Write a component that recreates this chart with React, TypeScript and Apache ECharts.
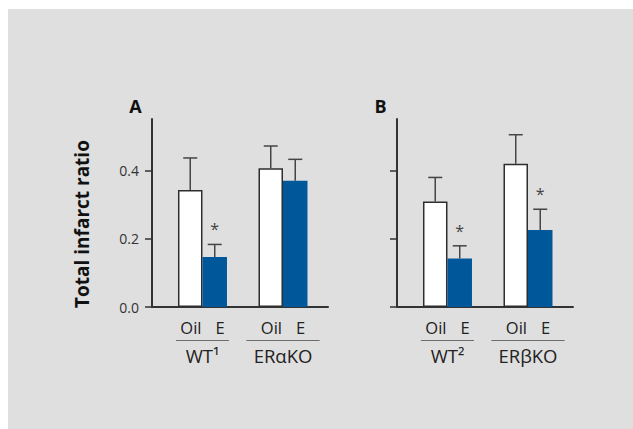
import React, { useEffect, useRef } from "react";
import * as echarts from "echarts";

const panelLabels = ["A", "B"];
const treatments = ["Oil", "E"];
const groupsA = ["WT¹", "ERαKO"];
const groupsB = ["WT²", "ERβKO"];
const oilA = [0.342, 0.406];
const oilErrA = [0.094, 0.065];
const eA = [0.146, 0.369];
const eErrA = [0.037, 0.063];
const sigA = [1, 0];
const oilB = [0.309, 0.419];
const oilErrB = [0.07, 0.085];
const eB = [0.142, 0.225];
const eErrB = [0.037, 0.061];
const sigB = [1, 1];
const yTicks = [0, 0.2, 0.4];
const yMax = 0.55;
const yTitle = "Total infarct ratio";

const FONT = "'Open Sans', 'Noto Sans', sans-serif";
const BAR_W = 24.5;
const CAP = 7;
const X_MIN = -0.627;
const X_MAX = 1.559;
const GRID_LEFT = [144, 389];
const LETTER_POS = [
  [127.5, 96.5],
  [372.5, 96.5],
];

const panels = [
  { groups: groupsA, oil: oilA, oilErr: oilErrA, e: eA, eErr: eErrA, sig: sigA },
  { groups: groupsB, oil: oilB, oilErr: oilErrB, e: eB, eErr: eErrB, sig: sigB },
];

export default function App() {
  const ref = useRef<HTMLDivElement>(null);
  useEffect(() => {
    if (!ref.current) return;
    const chart = echarts.init(ref.current, null, { renderer: "svg" });

    const series: any[] = [];
    panels.forEach((p, i) => {
      series.push({
        type: "bar",
        name: treatments[0],
        xAxisIndex: i,
        yAxisIndex: i,
        barWidth: BAR_W,
        barGap: "0%",
        data: p.oil.map((v, g) => [g, v]),
        itemStyle: { color: "#ffffff", borderColor: "#2e2e2e", borderWidth: 1.5 },
      });
      series.push({
        type: "bar",
        name: treatments[1],
        xAxisIndex: i,
        yAxisIndex: i,
        barWidth: BAR_W,
        barGap: "0%",
        data: p.e.map((v, g) => [g, v]),
        itemStyle: { color: "#00589b" },
      });
      const errData: number[][] = [];
      p.oil.forEach((v, g) => errData.push([g, 0, v, p.oilErr[g], 0]));
      p.e.forEach((v, g) => errData.push([g, 1, v, p.eErr[g], p.sig[g]]));
      series.push({
        type: "custom",
        xAxisIndex: i,
        yAxisIndex: i,
        encode: { x: 0, y: 2 },
        data: errData,
        z: 5,
        renderItem: (params: any, api: any) => {
          const g = api.value(0);
          const s = api.value(1);
          const m = api.value(2);
          const e = api.value(3);
          const sig = api.value(4);
          const p0 = api.coord([g, m]);
          const p1 = api.coord([g, m + e]);
          const x = p0[0] + (s === 0 ? -1 : 1) * (BAR_W / 2);
          const children: any[] = [
            {
              type: "line",
              shape: { x1: x, y1: p0[1], x2: x, y2: p1[1] },
              style: { stroke: "#444444", lineWidth: 1.5 },
            },
            {
              type: "line",
              shape: { x1: x - CAP, y1: p1[1], x2: x + CAP, y2: p1[1] },
              style: { stroke: "#444444", lineWidth: 1.5 },
            },
          ];
          if (sig) {
            children.push({
              type: "text",
              x: x,
              y: p1[1] - 15,
              style: {
                text: "*",
                fontSize: 16,
                fill: "#444444",
                align: "center",
                verticalAlign: "middle",
                fontFamily: FONT,
              },
            });
          }
          return { type: "group", children };
        },
      });
    });

    const option: any = {
      animation: false,
      backgroundColor: "#dfdfdf",
      textStyle: { fontFamily: FONT },
      grid: panels.map((_, i) => ({
        left: GRID_LEFT[i],
        top: 110,
        width: 176,
        height: 188,
        containLabel: false,
      })),
      xAxis: panels.map((p, i) => ({
        type: "value",
        gridIndex: i,
        min: X_MIN,
        max: X_MAX,
        splitLine: { show: false },
        axisTick: { show: false },
        axisLine: { show: true, onZero: false, lineStyle: { color: "#333333", width: 2 } },
        axisLabel: {
          customValues: [0, 1],
          margin: 11,
          fontSize: 16,
          color: "#222222",
          formatter: (v: number) => {
            const g = Math.round(v);
            const hr = g === 0 ? "hrS" : "hrL";
            return `{t|${treatments[0]}}{gap|}{t|${treatments[1]}}\n{${hr}|}\n{n|${p.groups[g]}}`;
          },
          rich: {
            t: { fontSize: 16.5, lineHeight: 19, color: "#222222", fontFamily: FONT },
            gap: { width: 14 },
            hrS: { width: 53, height: 0, borderColor: "#666666", borderWidth: 0.75, lineHeight: 7 },
            hrL: { width: 73, height: 0, borderColor: "#666666", borderWidth: 0.75, lineHeight: 7 },
            n: { fontSize: 18.5, lineHeight: 23, color: "#222222", fontFamily: FONT },
          },
        },
      })),
      yAxis: panels.map((_, i) => ({
        type: "value",
        gridIndex: i,
        min: 0,
        max: yMax,
        splitLine: { show: false },
        axisLine: { show: true, onZero: false, lineStyle: { color: "#333333", width: 2 } },
        axisTick: {
          show: true,
          length: 7,
          customValues: yTicks,
          lineStyle: { color: "#333333", width: 1.5 },
        },
        axisLabel: {
          show: i === 0,
          customValues: yTicks,
          margin: 13,
          fontSize: 14,
          color: "#333333",
          fontFamily: FONT,
          formatter: (v: number) => v.toFixed(1),
        },
        name: i === 0 ? yTitle : "",
        nameLocation: "middle",
        nameGap: 61,
        nameTextStyle: {
          fontSize: 19,
          fontWeight: "bold",
          color: "#111111",
          fontFamily: FONT,
          padding: [0, 22, 0, 0],
        },
      })),
      graphic: panelLabels.map((t, i) => ({
        type: "text",
        x: LETTER_POS[i][0],
        y: LETTER_POS[i][1],
        style: {
          text: t,
          fontSize: 18,
          fontWeight: "bold",
          fill: "#111111",
          fontFamily: FONT,
          align: "center",
          verticalAlign: "middle",
        },
      })),
      series,
    };
    chart.setOption(option);
    return () => chart.dispose();
  }, []);

  return (
    <div
      ref={ref}
      style={{
        position: "fixed",
        left: 8,
        top: 9,
        width: 625,
        height: 420,
        background: "#dfdfdf",
      }}
    />
  );
}
